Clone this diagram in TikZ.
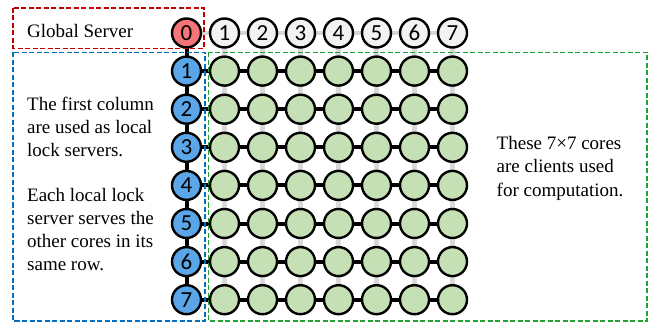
\documentclass[tikz,border=0pt]{standalone}
\usepackage{fontspec}
\setmainfont{Liberation Serif}
\newfontfamily\numfont{Carlito}
\usetikzlibrary{backgrounds}
\definecolor{redfill}{HTML}{F47477}
\definecolor{bluefill}{HTML}{5AA6E8}
\definecolor{greenfill}{HTML}{C5E0B4}
\definecolor{headfill}{HTML}{F2F2F2}
\definecolor{gridgray}{HTML}{D9D9D9}
\definecolor{redbox}{HTML}{C00000}
\definecolor{bluebox}{HTML}{0070C0}
\definecolor{greenbox}{HTML}{1FA22E}
\tikzset{
  core/.style={circle, draw=black, line width=2.4pt, minimum size=29pt, inner sep=0pt,
    font=\numfont\fontsize{23}{23}\selectfont},
  globalcore/.style={core, fill=redfill},
  headcore/.style={core, fill=headfill},
  lockcore/.style={core, fill=bluefill},
  clientcore/.style={core, fill=greenfill},
  grayline/.style={draw=gridgray, line width=4.2pt},
  blackline/.style={draw=black, line width=4pt},
  dashbox/.style={line width=1.7pt, dash pattern=on 5pt off 2.5pt},
  txt/.style={anchor=base west, inner sep=0pt, font=\fontsize{19}{23}\selectfont}
}
\begin{document}
\begin{tikzpicture}[x=1pt,y=-1pt]
\useasboundingbox (0,0) rectangle (650,323);
% header row
\node[globalcore] (n-0-0) at (186.5,33) {0};
\foreach \c in {1,...,7}{
  \node[headcore] (n-0-\c) at ({186.5+38*\c},33) {\c};
}
% rows
\foreach \r in {1,...,7}{
  \node[lockcore] (n-\r-0) at (186.5,{33+38.1*\r}) {\r};
  \foreach \c in {1,...,7}{
    \node[clientcore] (n-\r-\c) at ({186.5+38*\c},{33+38.1*\r}) {};
  }
}
\begin{pgfonlayer}{background}
  \draw[grayline] (n-0-0.center) -- (n-0-7.center);
  \foreach \c in {1,...,7}{
    \draw[grayline] (n-0-\c.center) -- (n-7-\c.center);
  }
  \foreach \r in {1,...,7}{
    \draw[blackline] (n-\r-0.center) -- (n-\r-7.center);
  }
  \draw[blackline] (n-0-0.center) -- (n-7-0.center);
\end{pgfonlayer}
% dashed boxes
\draw[dashbox, draw=redbox] (13,8) rectangle (204,48.5);
\draw[dashbox, draw=bluebox] (13,52.5) rectangle (205,321);
\draw[dashbox, draw=greenbox] (208.5,52.5) rectangle (647,321);
% texts
\node[txt] (gs) at (27,37.5) {Global Server};
\node[txt] (l1) at (27,110.7) {The first column};
\node[txt] (l2) at (27,133.5) {are used as local};
\node[txt] (l3) at (27,156.3) {lock servers.};
\node[txt] (l4) at (27,201.7) {Each local lock};
\node[txt] (l5) at (27,224.7) {server serves the};
\node[txt] (l6) at (27,247.7) {other cores in its};
\node[txt] (l7) at (27,270.7) {same row.};
\node[txt] (r1) at (496.5,149.5) {These 7×7 cores};
\node[txt] (r2) at (496.5,173) {are clients used};
\node[txt] (r3) at (496.5,196.5) {for computation.};
\end{tikzpicture}
\end{document}
